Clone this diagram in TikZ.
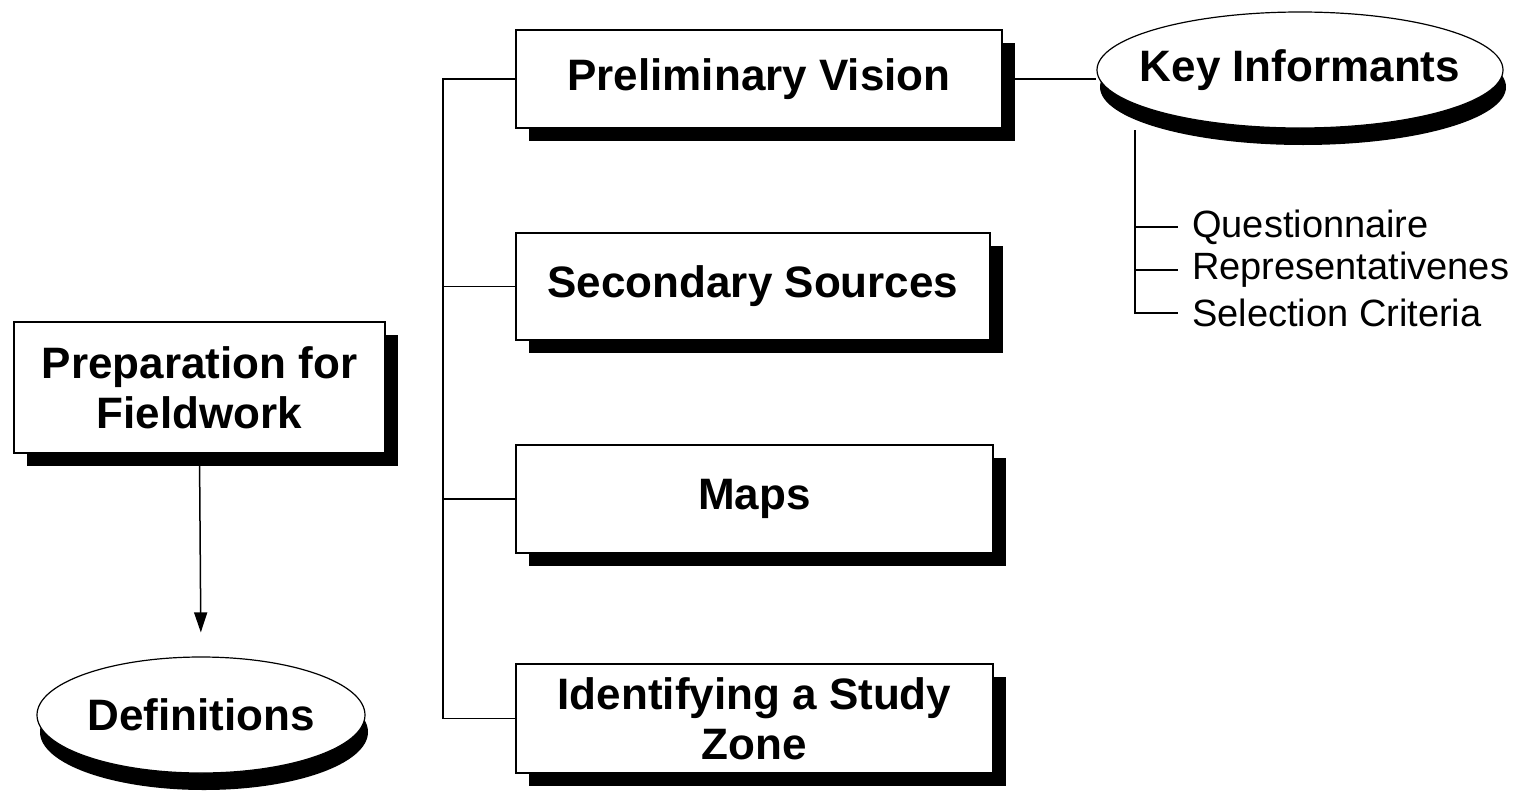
\documentclass[tikz,border=0pt]{standalone}
\usepackage{fontspec}
\setmainfont{Liberation Sans}
\usetikzlibrary{shapes.geometric,shadows,arrows.meta}
\begin{document}
\begin{tikzpicture}[x=1pt,y=-1pt,
  boxnode/.style={draw=black, line width=1.2pt, fill=white, rectangle, align=center,
    font=\fontsize{44}{50}\selectfont\bfseries,
    drop shadow={shadow xshift=13pt, shadow yshift=-13pt, opacity=1, fill=black}},
  ellnode/.style={draw=black, line width=1.2pt, fill=white, ellipse, inner sep=0pt,
    font=\fontsize{44}{50}\selectfont\bfseries,
    drop shadow={shadow xshift=3pt, shadow yshift=-17pt, opacity=1, fill=black}},
  itemnode/.style={anchor=west, inner sep=0pt, font=\fontsize{38}{40}\selectfont},
  conn/.style={line width=1.5pt}]
\useasboundingbox (0,0) rectangle (1526,798);

\node[boxnode, minimum width=371pt, minimum height=131pt] (prep) at (199.5,387.5) {Preparation for\\Fieldwork};
\node[ellnode, minimum width=328pt, minimum height=116pt] (def) at (201,715) {Definitions};

\node[boxnode, minimum width=486pt, minimum height=98pt] (pv) at (759,79) {Preliminary Vision};
\node[boxnode, minimum width=474pt, minimum height=107pt] (ss) at (753,286.5) {Secondary Sources};
\node[boxnode, minimum width=477pt, minimum height=108pt] (maps) at (754.5,499) {Maps};
\node[boxnode, minimum width=477pt, minimum height=109pt] (iz) at (754.5,718.5) {Identifying a Study\\Zone};

\node[ellnode, inner xsep=-20pt, minimum width=406pt, minimum height=116pt] (ki) at (1300,70) {Key Informants};

\node[itemnode] (q) at (1192,227) {Questionnaire};
\node[itemnode] (r) at (1192,270) {Representativenes};
\node[itemnode] (sc) at (1192,313) {Selection Criteria};

\draw[conn, -{Triangle[width=13pt,length=20pt]}, shorten >=24pt] (prep.south) -- (def.north);

\coordinate (trunk) at (443,0);
\draw[conn] (pv.west) -- (pv.west -| trunk) |- (iz.west);
\draw[conn] (ss.west) -- (ss.west -| trunk);
\draw[conn] (maps.west) -- (maps.west -| trunk);

\draw[conn] (pv.east) -- (pv.east -| ki.west);

\coordinate (kitop) at (1135,130);
\draw[conn] (kitop) |- ([xshift=-14pt]sc.west);
\draw[conn] (kitop |- q.west) -- ([xshift=-14pt]q.west);
\draw[conn] (kitop |- r.west) -- ([xshift=-14pt]r.west);
\end{tikzpicture}
\end{document}
